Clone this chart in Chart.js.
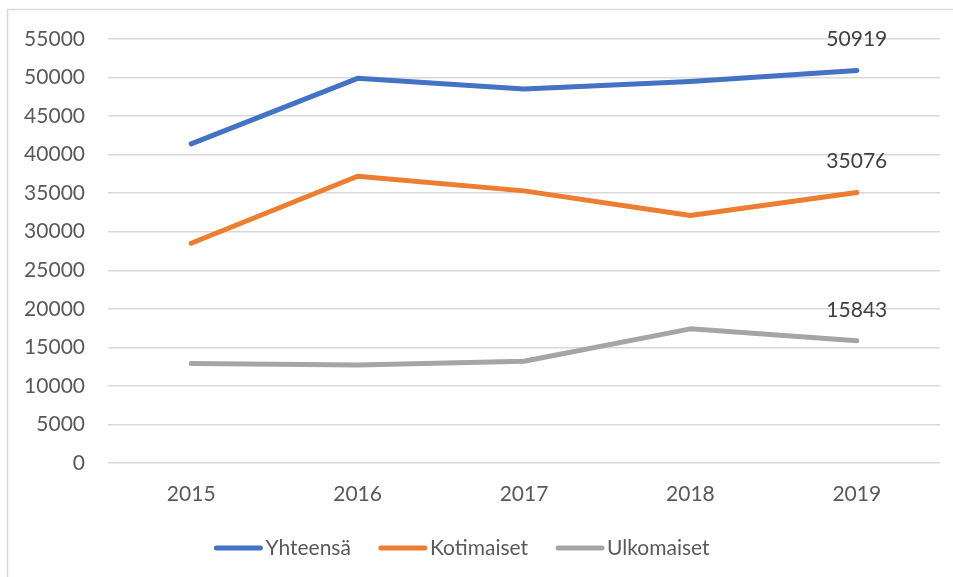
<!DOCTYPE html>
<html>
<head>
<meta charset="utf-8">
<script src="https://cdn.jsdelivr.net/npm/chart.js@4.4.1/dist/chart.umd.min.js"></script>
<style>
  html, body { margin: 0; padding: 0; background: #fff; }
  #wrap { width: 953px; height: 577px; position: relative; }
</style>
</head>
<body>
<div id="wrap"><canvas id="graphicFirst" width="953" height="577"></canvas></div>
<script>
//-----Data
const years = ['2015', '2016', '2017', '2018', '2019'];
const yhteensa = [41400, 49900, 48500, 49500, 50919];
const kotimaiset = [28500, 37200, 35300, 32100, 35076];
const ulkomaiset = [12900, 12700, 13200, 17400, 15843];
const yTicks = [0, 5000, 10000, 15000, 20000, 25000, 30000, 35000, 40000, 45000, 50000, 55000];

const FONT = 'Lato, "Open Sans", sans-serif';
const TEXT = '#595959';

//----Box round the chart
const frame = {
  id: 'frame',
  beforeDraw(chart) {
    let c = chart.ctx;
    c.save();
    c.fillStyle = '#fff';
    c.fillRect(0, 0, chart.width, chart.height);
    c.strokeStyle = '#d9d9d9';
    c.lineWidth = 1.5;
    c.strokeRect(7.5, 9.5, 990, 620);
    c.restore();
  }
};

//----Value on the last point of every line
const lastLabels = {
  id: 'lastLabels',
  afterDatasetsDraw(chart) {
    let c = chart.ctx;
    c.save();
    c.font = '21px ' + FONT;
    c.fillStyle = '#404040';
    c.textAlign = 'center';
    c.textBaseline = 'middle';
    chart.data.datasets.forEach((ds, i) => {
      let meta = chart.getDatasetMeta(i);
      let n = ds.data.length - 1;
      let pt = meta.data[n];
      c.fillText(ds.data[n], pt.x, pt.y - 31);
    });
    c.restore();
  }
};

//----Legend under the chart (line sample close to the text)
const bottomLegend = {
  id: 'bottomLegend',
  afterDraw(chart) {
    let c = chart.ctx;
    let lineW = 48, gap = 3, itemGap = 28, y = 548, centerX = 462;
    c.save();
    c.font = '21px ' + FONT;
    let sets = chart.data.datasets;
    let widths = sets.map(ds => lineW + gap + c.measureText(ds.label).width);
    let total = widths.reduce((a, b) => a + b, 0) + itemGap * (sets.length - 1);
    let x = centerX - total / 2;
    sets.forEach((ds, i) => {
      c.strokeStyle = ds.borderColor;
      c.lineWidth = 5;
      c.lineCap = 'round';
      c.beginPath();
      c.moveTo(x + 2, y);
      c.lineTo(x + lineW - 2, y);
      c.stroke();
      c.fillStyle = TEXT;
      c.textAlign = 'left';
      c.textBaseline = 'middle';
      c.fillText(ds.label, x + lineW + gap, y);
      x += widths[i] + itemGap;
    });
    c.restore();
  }
};

function makeSet(label, data, color) {
  return {
    label: label,
    data: data,
    borderColor: color,
    backgroundColor: color,
    borderWidth: 5,
    borderCapStyle: 'round',
    borderJoinStyle: 'round',
    pointRadius: 0,
    pointHoverRadius: 0,
    tension: 0,
    fill: false,
  };
}

var ctx = document.getElementById('graphicFirst').getContext('2d');
var chart1 = new Chart(ctx, {
  type: 'line',
  data: {
    labels: years,
    datasets: [
      makeSet('Yhteensä', yhteensa, '#4472c4'),
      makeSet('Kotimaiset', kotimaiset, '#ed7d31'),
      makeSet('Ulkomaiset', ulkomaiset, '#a5a5a5'),
    ]
  },
  options: {
    responsive: false,
    animation: false,
    layout: { padding: { top: 39, right: 13, left: 0, bottom: 64 } },
    plugins: {
      tooltip: { enabled: false },
      legend: { display: false }
    },
    scales: {
      x: {
        offset: true,
        grid: { display: false, drawTicks: false },
        border: { display: false },
        ticks: { color: TEXT, font: { family: FONT, size: 21 }, padding: 19 },
        afterFit(scale) { scale.height = 50; }
      },
      y: {
        min: 0,
        max: 55000,
        afterBuildTicks(scale) { scale.ticks = yTicks.map(v => ({ value: v })); },
        grid: { color: '#d9d9d9', lineWidth: 1.5, drawTicks: false },
        border: { display: false },
        ticks: {
          color: TEXT,
          font: { family: FONT, size: 21 },
          padding: 23,
          callback: v => String(v)
        },
        afterFit(scale) { scale.width = 108; }
      }
    }
  },
  plugins: [frame, lastLabels, bottomLegend],
});
</script>
</body>
</html>
